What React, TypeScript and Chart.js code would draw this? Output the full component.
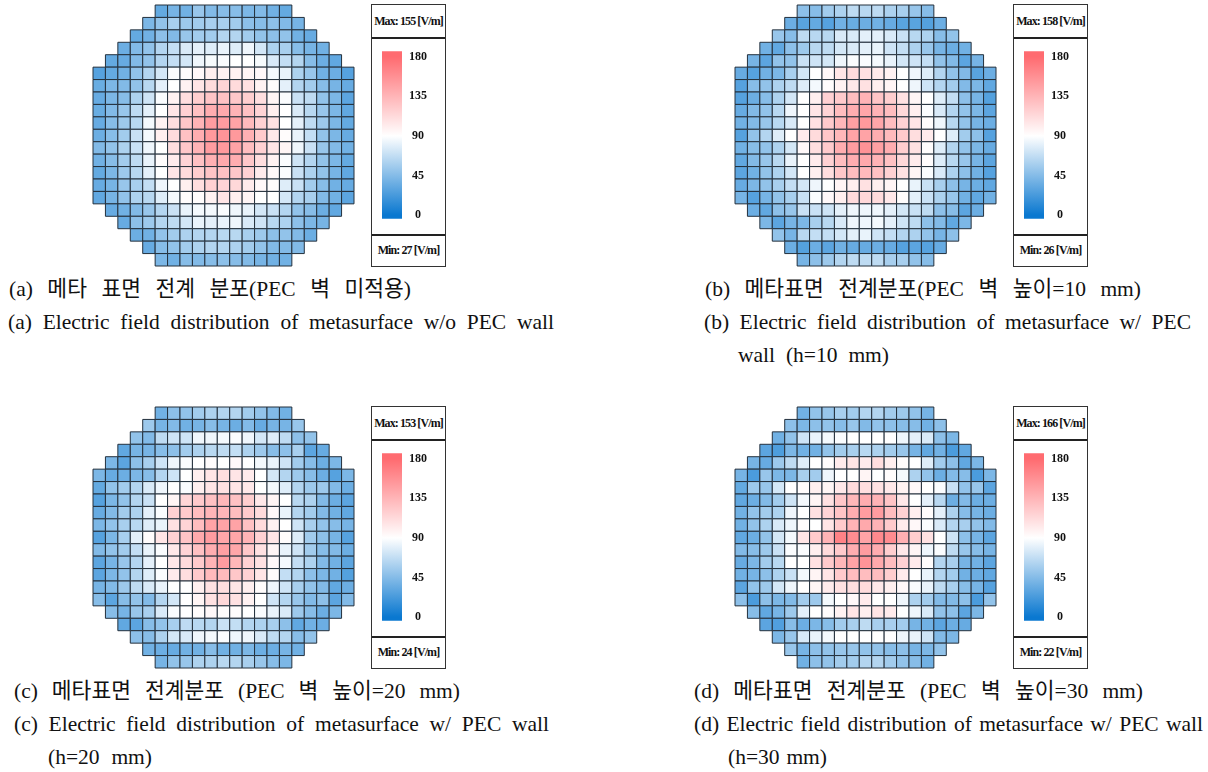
import React, { useEffect, useLayoutEffect, useRef } from "react";
import { Chart, registerables } from "chart.js";

Chart.register(...registerables);

const panelARows = [
  [33,40,38,52,44,46,46,42,44,38,33],
  [42,50,58,54,56,58,58,56,48,46,48,44,40],
  [33,38,48,44,52,56,56,62,62,56,50,48,50,38,34],
  [36,44,50,62,68,76,80,78,82,78,84,74,60,58,46,40,38],
  [33,34,44,50,62,68,74,84,87,88,90,90,87,76,68,62,46,36,32],
  [28,33,38,50,62,74,88,92,94,100,98,98,96,94,86,82,60,52,38,36,28],
  [35,42,44,50,64,80,90,98,106,112,116,112,108,98,92,80,62,56,46,40,34],
  [34,42,46,60,72,88,98,110,120,126,128,124,120,110,96,88,70,66,50,42,30],
  [35,44,52,66,80,90,106,118,128,140,142,136,128,116,100,90,76,64,52,42,32],
  [34,46,54,64,86,98,110,124,136,150,150,146,132,118,108,90,80,66,54,42,33],
  [36,46,56,70,86,100,112,128,140,152,155,152,138,122,104,92,82,68,50,42,34],
  [44,50,60,70,84,90,110,124,136,150,152,146,130,118,106,96,84,70,52,44,38],
  [38,46,56,66,82,92,102,116,128,138,142,140,124,110,98,88,72,62,50,42,33],
  [33,42,54,64,80,90,106,112,120,126,128,124,118,102,94,88,70,60,50,40,32],
  [34,40,52,58,68,84,90,100,110,118,116,114,102,94,92,78,70,56,46,38,34],
  [32,40,50,60,64,78,86,92,92,98,106,100,96,90,90,74,62,58,44,38,30],
  [34,38,44,52,62,70,82,86,86,88,84,82,74,70,62,50,46,36,32],
  [34,48,54,62,66,74,82,80,82,84,76,72,64,60,48,42,40],
  [36,38,50,56,60,62,62,64,64,58,54,48,50,44,36],
  [34,46,50,56,60,62,62,60,56,50,44,44,44],
  [42,38,46,44,46,48,46,44,40,38,38],
];

const panelBRows = [
  [48,46,56,60,66,64,66,60,58,52,46],
  [36,29,33,28,38,35,36,38,34,29,29,27,36],
  [52,46,66,64,64,76,76,80,80,76,70,64,60,46,50],
  [38,32,48,54,64,66,74,76,80,82,72,68,60,52,40,36,38],
  [40,30,50,50,70,72,74,84,88,88,86,82,74,72,68,50,44,30,40],
  [34,28,38,42,58,74,90,94,106,112,108,102,98,90,84,78,62,50,44,29,36],
  [28,46,50,60,66,78,86,92,98,104,108,100,96,90,84,72,62,56,44,42,32],
  [28,36,46,60,74,90,100,118,122,130,136,126,120,108,96,90,78,68,48,40,27],
  [34,44,50,64,84,90,106,116,130,140,144,136,130,114,100,88,76,62,50,42,30],
  [38,44,52,64,76,90,108,122,134,148,152,144,130,118,106,92,84,64,50,40,36],
  [28,50,62,78,90,102,112,124,134,146,146,140,132,122,110,102,90,78,56,48,28],
  [38,46,50,60,74,94,110,122,140,150,156,148,140,120,108,92,78,62,50,42,34],
  [32,44,52,64,82,90,102,118,130,140,142,136,128,114,102,92,78,64,52,40,30],
  [30,38,50,60,74,90,100,110,124,130,132,128,118,108,96,88,76,60,48,38,28],
  [34,42,50,58,68,74,84,90,96,100,108,100,96,90,82,70,58,48,40,36,32],
  [40,28,40,50,58,70,88,94,100,112,114,112,104,92,80,70,60,52,38,32,38],
  [36,32,48,52,70,70,72,80,84,84,84,80,74,70,66,48,46,30,36],
  [42,30,40,42,58,64,76,84,84,86,80,72,66,48,44,32,42],
  [50,40,64,68,68,74,80,82,72,68,62,60,50,40,48],
  [36,27,36,30,38,34,34,36,34,28,30,28,34],
  [40,48,54,62,66,66,66,58,58,50,46],
];

const panelCRows = [
  [38,48,50,56,60,62,62,56,50,44,38],
  [54,40,44,38,40,46,40,36,44,34,40,40,52],
  [50,44,66,72,72,84,84,86,88,84,74,78,66,48,50],
  [32,40,40,46,48,56,60,64,66,68,60,54,46,48,58,30,34],
  [42,30,48,58,72,84,88,90,92,90,94,90,86,82,72,56,46,36,42],
  [42,34,36,42,46,62,72,90,100,106,110,106,102,90,74,62,54,46,36,28,42],
  [33,50,56,62,76,84,90,88,100,106,108,106,104,90,86,78,62,54,54,44,36],
  [28,42,50,62,70,90,96,115,122,128,134,128,120,104,96,90,64,60,44,36,30],
  [34,44,56,60,80,88,118,122,130,135,135,130,122,112,94,82,62,56,44,38,32],
  [42,50,58,64,78,82,108,116,130,146,146,146,128,112,98,90,72,58,50,46,40],
  [28,42,58,80,92,106,118,126,142,150,144,144,136,118,106,92,78,56,48,40,28],
  [44,50,56,68,82,88,104,116,128,140,148,144,124,108,96,82,72,56,46,44,36],
  [30,40,52,62,80,90,104,112,122,136,150,134,118,108,94,86,68,60,44,38,30],
  [30,42,50,62,78,88,102,110,122,132,132,124,118,106,92,68,62,48,42,38,27],
  [40,44,54,66,76,82,90,90,100,108,110,106,100,92,84,72,58,50,44,32,36],
  [46,30,46,50,44,62,74,90,96,108,114,108,98,90,72,62,52,44,48,30,44],
  [46,40,52,58,76,88,90,92,94,92,92,90,88,82,76,54,46,36,42],
  [32,30,46,50,58,66,64,62,70,68,62,60,58,48,32,38,36],
  [48,46,60,74,76,84,86,88,84,84,76,66,62,46,50],
  [38,36,34,38,38,46,38,38,42,36,36,40,38],
  [40,50,52,60,60,64,62,58,52,46,42],
];

const panelDRows = [
  [38,50,52,58,56,62,62,56,54,50,40],
  [48,42,48,50,46,52,44,50,48,46,46,38,48],
  [38,50,72,82,86,88,90,90,90,90,84,80,76,48,42],
  [30,25,42,38,38,50,56,58,64,60,56,52,40,32,38,24,32],
  [40,34,54,66,78,90,92,102,106,102,110,100,92,90,78,56,48,32,42],
  [40,24,52,42,42,58,56,84,90,90,96,90,92,86,60,50,36,44,46,24,42],
  [33,54,52,74,90,92,100,96,104,112,110,108,104,98,94,90,88,70,50,52,30],
  [32,36,44,56,72,86,96,108,124,134,140,136,126,104,90,80,64,36,44,36,36],
  [38,50,56,60,84,90,108,116,126,140,150,150,130,118,100,92,80,60,46,40,36],
  [38,50,60,76,84,92,90,106,122,136,142,136,122,102,94,88,76,62,58,50,44],
  [32,36,50,74,86,106,122,136,166,160,146,162,160,138,120,108,90,72,48,40,30],
  [44,46,54,70,88,88,100,112,122,140,150,140,120,104,96,84,88,66,52,46,40],
  [34,42,56,64,90,90,108,122,134,146,155,142,130,118,102,92,62,58,40,38,30],
  [38,40,48,60,70,86,96,106,122,130,130,130,120,102,90,82,62,56,38,36,32],
  [30,50,54,74,84,90,96,102,108,110,112,104,100,94,88,82,66,58,46,40,28],
  [48,24,48,42,44,56,54,86,90,94,102,90,90,84,60,56,44,44,48,24,50],
  [46,32,40,54,80,90,92,98,106,100,106,102,90,84,76,50,48,30,42],
  [30,26,46,36,42,46,56,58,66,58,58,56,40,38,30,36,34],
  [42,52,76,82,86,90,90,90,90,90,84,82,72,44,42],
  [52,40,48,50,52,52,50,50,46,48,40,42,50],
  [38,48,50,56,56,62,62,56,50,46,38],
];

const colorbarTicks = [0, 45, 90, 135, 180];
const colorbarExtent = [-4.3, 186.4];
const maxLabels = ["Max: 155 [V/m]", "Max: 158 [V/m]", "Max: 153 [V/m]", "Max: 166 [V/m]"];
const minLabels = ["Min: 27 [V/m]", "Min: 26 [V/m]", "Min: 24 [V/m]", "Min: 22 [V/m]"];
const COLD = [10, 120, 208];
const MID = [255, 255, 255];
const HOT = [255, 107, 112];
const GRID_SIZE = 21;

const captionLines: [string, number, number, number][] = [
  ["(a) 메타 표면 전계 분포(PEC 벽 미적용)", 9, 289, 402],
  ["(a) Electric field distribution of metasurface w/o PEC wall", 8, 322, 546],
  ["(b) 메타표면 전계분포(PEC 벽 높이=10 mm)", 705, 289, 436],
  ["(b) Electric field distribution of metasurface w/ PEC", 704, 322, 487],
  ["wall (h=10 mm)", 738, 355, 151],
  ["(c) 메타표면 전계분포 (PEC 벽 높이=20 mm)", 14, 691, 446],
  ["(c) Electric field distribution of metasurface w/ PEC wall", 14, 724, 535],
  ["(h=20 mm)", 48, 757, 104],
  ["(d) 메타표면 전계분포 (PEC 벽 높이=30 mm)", 694, 691, 449],
  ["(d) Electric field distribution of metasurface w/ PEC wall", 694, 724, 509],
  ["(h=30 mm)", 728, 757, 99],
];

function colorFor(v: number): string {
  const [a, b, t] = v <= 90 ? [COLD, MID, v / 90] : [MID, HOT, (v - 90) / 90];
  const mix = (a as number[]).map((c, i) => Math.round(c + ((b as number[])[i] - c) * Math.min(1, Math.max(0, t as number))));
  return `rgb(${mix[0]},${mix[1]},${mix[2]})`;
}

function HeatMap({ rows, left, top }: { rows: number[][]; left: number; top: number }) {
  const ref = useRef<HTMLCanvasElement>(null);
  useEffect(() => {
    const points: { x: number; y: number }[] = [];
    const colors: string[] = [];
    rows.forEach((row, r) => {
      const offset = (GRID_SIZE - row.length) / 2;
      row.forEach((v, i) => {
        points.push({ x: offset + i, y: r });
        colors.push(colorFor(v));
      });
    });
    const chart = new Chart(ref.current!, {
      type: "scatter",
      data: {
        datasets: [
          {
            data: points,
            pointStyle: "rect",
            pointBackgroundColor: colors,
            pointBorderColor: "#24303c",
            pointBorderWidth: 1,
            pointRadius: (c: any) => (c.chart.chartArea ? c.chart.chartArea.width : 261) / GRID_SIZE / Math.SQRT2,
            clip: false,
          } as any,
        ],
      },
      options: {
        responsive: false,
        animation: false,
        layout: { padding: 2, autoPadding: false },
        plugins: { legend: { display: false }, tooltip: { enabled: false } },
        scales: {
          x: { display: false, min: -0.5, max: GRID_SIZE - 0.5 },
          y: { display: false, min: -0.5, max: GRID_SIZE - 0.5, reverse: true },
        },
      },
    });
    return () => chart.destroy();
  }, [rows]);
  return <canvas ref={ref} width={265} height={265} style={{ position: "absolute", left: left - 2, top: top - 2 }} />;
}

function ColorBar({ left, top }: { left: number; top: number }) {
  const ref = useRef<HTMLCanvasElement>(null);
  useEffect(() => {
    const chart = new Chart(ref.current!, {
      type: "bar",
      data: {
        labels: ["E"],
        datasets: [
          {
            data: [colorbarExtent as any],
            barPercentage: 1,
            categoryPercentage: 1,
            backgroundColor: (c: any) => {
              const { ctx, scales, chartArea } = c.chart;
              const fallback = colorFor(90);
              if (!chartArea || !scales.y) return fallback;
              const y0 = scales.y.getPixelForValue(0);
              const y1 = scales.y.getPixelForValue(180);
              if (!Number.isFinite(y0) || !Number.isFinite(y1)) return fallback;
              const g = ctx.createLinearGradient(0, y0, 0, y1);
              g.addColorStop(0, colorFor(0));
              g.addColorStop(0.5, colorFor(90));
              g.addColorStop(1, colorFor(180));
              return g;
            },
          },
        ],
      },
      options: {
        responsive: false,
        animation: false,
        layout: { padding: { top: 3.5, bottom: 3.5, left: 10, right: 0 }, autoPadding: false },
        plugins: { legend: { display: false }, tooltip: { enabled: false } },
        scales: {
          x: { display: false },
          y: {
            position: "right",
            min: colorbarExtent[0],
            max: colorbarExtent[1],
            afterBuildTicks: (s: any) => {
              s.ticks = colorbarTicks.map((value) => ({ value }));
            },
            afterFit: (s: any) => {
              s.width = 40;
            },
            grid: { display: false, drawTicks: false },
            border: { display: false },
            ticks: {
              padding: 7,
              crossAlign: "center",
              color: "#111",
              autoSkip: false,
              font: { family: "'Liberation Serif'", size: 12, weight: "bold" },
            },
          },
        },
      },
    });
    return () => chart.destroy();
  }, []);
  return <canvas ref={ref} width={70} height={196} style={{ position: "absolute", left: left + 1, top: top + 33 }} />;
}

function LegendBox({ left, top, i }: { left: number; top: number; i: number }) {
  const label: React.CSSProperties = {
    position: "absolute",
    left: 0,
    width: 73,
    textAlign: "center",
    font: "bold 12px 'Liberation Serif'",
    letterSpacing: "-0.9px",
    color: "#111",
    whiteSpace: "nowrap",
  };
  return (
    <div style={{ position: "absolute", left, top, width: 73, height: 261, border: "1px solid #333", boxSizing: "content-box" }}>
      <div style={{ ...label, top: 9, lineHeight: "14px" }}>{maxLabels[i]}</div>
      <div style={{ position: "absolute", left: 0, top: 32, width: 73, height: 1.5, background: "#222" }} />
      <div style={{ position: "absolute", left: 0, top: 229, width: 73, height: 1.5, background: "#222" }} />
      <div style={{ ...label, top: 238, lineHeight: "14px" }}>{minLabels[i]}</div>
    </div>
  );
}

function Caption({ text, x, y, w }: { text: string; x: number; y: number; w: number }) {
  const ref = useRef<HTMLSpanElement>(null);
  useLayoutEffect(() => {
    const el = ref.current!;
    el.style.wordSpacing = "0px";
    const natural = el.getBoundingClientRect().width;
    const gaps = text.split(" ").length - 1;
    if (gaps > 0) el.style.wordSpacing = `${(w - natural) / gaps}px`;
  }, [text, w]);
  return (
    <span
      ref={ref}
      style={{
        position: "absolute",
        left: x,
        top: y - 13,
        font: "21.5px/26px 'Liberation Serif','Noto Sans CJK KR'",
        color: "#111",
        whiteSpace: "nowrap",
      }}
    >
      {text}
    </span>
  );
}

const heatPanels: [number[][], number, number][] = [
  [panelARows, 93.3, 5],
  [panelBRows, 735.3, 5],
  [panelCRows, 93.3, 407.3],
  [panelDRows, 735.3, 407.3],
];
const legendPanels: [number, number][] = [
  [371, 4],
  [1013, 4],
  [371, 406],
  [1013, 406],
];

export default function App() {
  useEffect(() => {
    document.body.style.margin = "0";
  }, []);
  return (
    <div style={{ position: "absolute", left: 0, top: 0, width: 1208, height: 772, overflow: "hidden", background: "#fff" }}>
      {heatPanels.map(([rows, l, t], i) => (
        <HeatMap key={i} rows={rows} left={l} top={t} />
      ))}
      {legendPanels.map(([l, t], i) => (
        <React.Fragment key={i}>
          <LegendBox left={l} top={t} i={i} />
          <ColorBar left={l} top={t} />
        </React.Fragment>
      ))}
      {captionLines.map(([text, x, y, w], i) => (
        <Caption key={i} text={text} x={x} y={y} w={w} />
      ))}
    </div>
  );
}
